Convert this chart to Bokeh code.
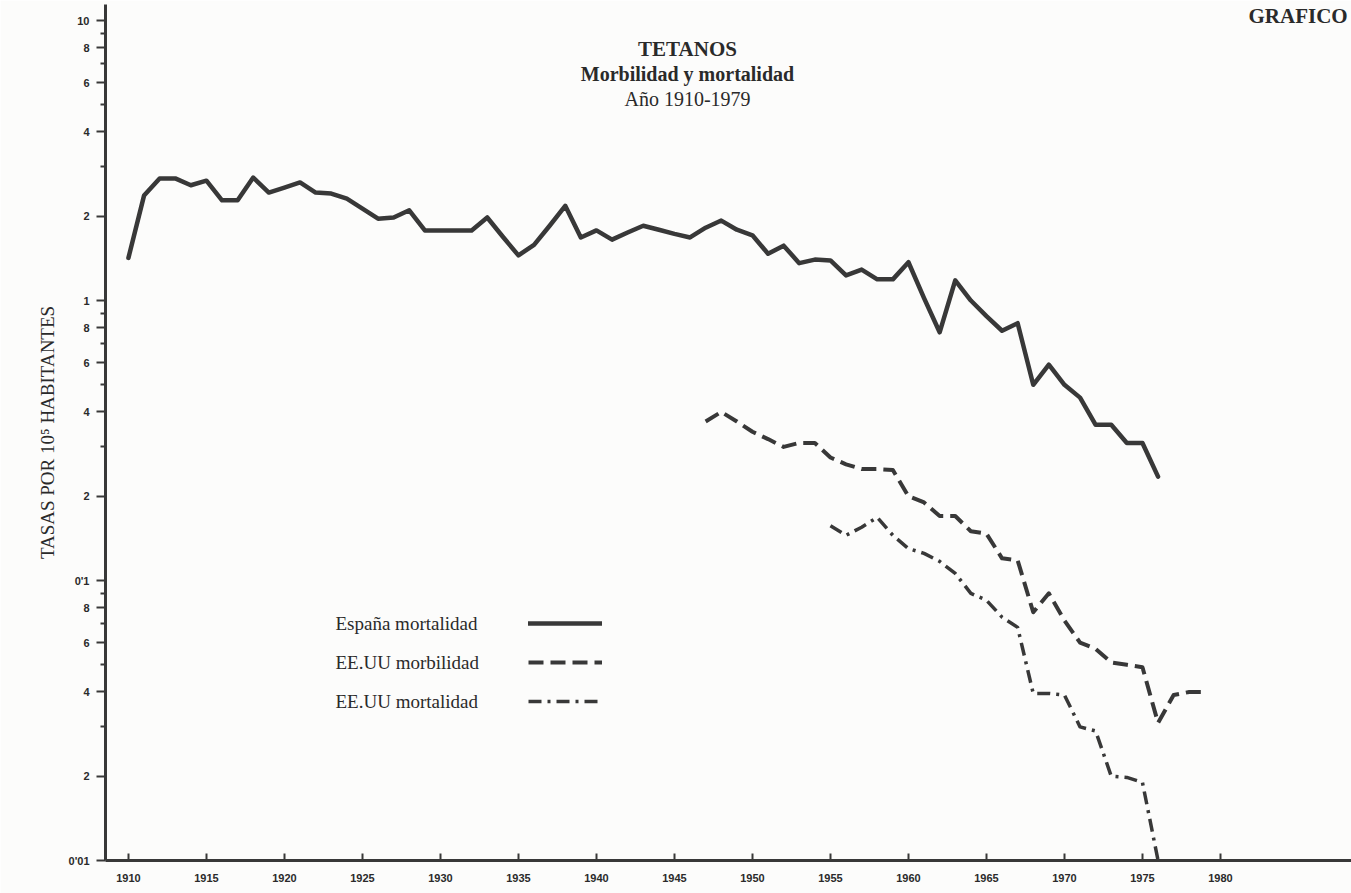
from bokeh.plotting import figure
from bokeh.models import Range1d, FixedTicker, Label, Legend, LegendItem
from bokeh.embed import file_html
from bokeh.resources import INLINE
from bokeh.core.properties import value

# ---------------- data ----------------
spain_years = list(range(1910, 1977))
spain_mort = [1.42, 2.37, 2.73, 2.73, 2.58, 2.68, 2.28, 2.28, 2.75, 2.43,   # 1910-1919
              2.53, 2.64, 2.43, 2.41, 2.31, 2.13, 1.96, 1.98, 2.10, 1.78,   # 1920-1929
              1.78, 1.78, 1.78, 1.98, 1.69, 1.45, 1.58, 1.85, 2.18, 1.68,   # 1930-1939
              1.78, 1.65, 1.75, 1.85, 1.79, 1.73, 1.68, 1.82, 1.93, 1.79,   # 1940-1949
              1.71, 1.47, 1.57, 1.36, 1.40, 1.39, 1.23, 1.29, 1.19, 1.19,   # 1950-1959
              1.37, 1.02, 0.77, 1.18, 1.00, 0.88, 0.78, 0.83, 0.50, 0.59,   # 1960-1969
              0.50, 0.45, 0.36, 0.36, 0.31, 0.31, 0.235]                     # 1970-1976

us_morb_years = list(range(1947, 1980))
us_morb = [0.37, 0.40, 0.37, 0.34, 0.32, 0.30, 0.31, 0.31, 0.275, 0.26,      # 1947-1956
           0.25, 0.25, 0.248, 0.20, 0.19, 0.17, 0.17, 0.15, 0.147, 0.12,     # 1957-1966
           0.118, 0.077, 0.09, 0.072, 0.06, 0.057, 0.051, 0.05, 0.049, 0.031,  # 1967-1976
           0.039, 0.04, 0.04]                                                # 1977-1979

us_mort_years = list(range(1955, 1977))
us_mort = [0.157, 0.145, 0.155, 0.168, 0.145, 0.13, 0.125, 0.117, 0.106, 0.09,     # 1955-1964
           0.085, 0.074, 0.068, 0.0395, 0.0395, 0.039, 0.030, 0.029, 0.020, 0.0198,  # 1965-1974
           0.019, 0.01]                                                            # 1975-1976

x_ticks = [1910, 1915, 1920, 1925, 1930, 1935, 1940, 1945, 1950, 1955, 1960, 1965, 1970, 1975, 1980]
x_labels = ["1910", "1915", "1920", "1925", "1930", "1935", "1940", "1945", "1950", "1955",
            "1960", "1965", "1970", "1975", "1980"]
y_major = [0.01, 0.02, 0.04, 0.06, 0.08, 0.1, 0.2, 0.4, 0.6, 0.8, 1, 2, 4, 6, 8, 10]
y_labels = ["0'01", "2", "4", "6", "8", "0'1", "2", "4", "6", "8", "1", "2", "4", "6", "8", "10"]
y_minor = [0.03, 0.05, 0.07, 0.09, 0.3, 0.5, 0.7, 0.9, 3, 5, 7, 9]

title_lines = ["TETANOS", "Morbilidad y mortalidad", "Año 1910-1979"]
legend_labels = ["España mortalidad", "EE.UU morbilidad", "EE.UU mortalidad"]
y_title = "TASAS POR 10⁵ HABITANTES"
corner_text = "GRAFICO"

# ---------------- figure ----------------
INK = "#383838"
TXT = "#2a2a2a"
BG = "#fcfcfb"
SERIF = "Liberation Serif"

p = figure(width=1351, height=893, y_axis_type="log",
           x_range=Range1d(1908.53, 1988.40), y_range=Range1d(0.01, 11.41),
           output_backend="svg", toolbar_location=None,
           min_border_left=105, min_border_right=0, min_border_top=4, min_border_bottom=33)
p.background_fill_color = BG
p.border_fill_color = BG
p.outline_line_color = None
p.grid.visible = False

r1 = p.line(spain_years, spain_mort, line_width=4.5, line_color=INK,
            line_join="round", line_cap="round")
r2 = p.line(us_morb_years, us_morb, line_width=4, line_color=INK,
            line_dash="15 7", line_join="round")
r3 = p.line(us_mort_years, us_mort, line_width=3.5, line_color=INK,
            line_dash="13 6 3 6", line_join="round")

# axes
xa = p.xaxis[0]
xa.ticker = FixedTicker(ticks=x_ticks, minor_ticks=[])
xa.major_label_overrides = dict(zip(x_ticks, x_labels))
xa.axis_line_width = 3
xa.axis_line_color = INK
xa.major_tick_line_color = INK
xa.major_tick_line_width = 2
xa.major_tick_in = 7
xa.major_tick_out = 0
xa.minor_tick_line_color = None
xa.major_label_standoff = 13
xa.major_label_text_font = "Liberation Sans"
xa.major_label_text_font_style = "bold"
xa.major_label_text_font_size = "11px"
xa.major_label_text_color = TXT

ya = p.yaxis[0]
ya.ticker = FixedTicker(ticks=y_major, minor_ticks=y_minor)
ya.major_label_overrides = dict(zip(y_major, y_labels))
ya.axis_line_width = 3
ya.axis_line_color = INK
ya.major_tick_line_color = INK
ya.major_tick_line_width = 2
ya.major_tick_in = 0
ya.major_tick_out = 9
ya.minor_tick_line_color = INK
ya.minor_tick_line_width = 2
ya.minor_tick_in = 0
ya.minor_tick_out = 5
ya.major_label_standoff = 7
ya.major_label_text_font = "Liberation Sans"
ya.major_label_text_font_style = "bold"
ya.major_label_text_font_size = "11px"
ya.major_label_text_color = TXT
ya.axis_label = y_title
ya.axis_label_text_font = SERIF
ya.axis_label_text_font_style = "normal"
ya.axis_label_text_font_size = "19px"
ya.axis_label_text_color = TXT
ya.axis_label_standoff = 8

# title block
title_sizes = ["21px", "20px", "20px"]
title_styles = ["bold", "bold", "normal"]
title_y = [812, 787, 762]
for t, s, st, yy in zip(title_lines, title_sizes, title_styles, title_y):
    p.add_layout(Label(x=582, y=yy, x_units="screen", y_units="screen", text=t,
                       text_align="center", text_baseline="middle",
                       text_font=SERIF, text_font_size=s, text_font_style=st,
                       text_color=TXT))

p.add_layout(Label(x=1143, y=845, x_units="screen", y_units="screen", text=corner_text,
                   text_align="left", text_baseline="middle",
                   text_font=SERIF, text_font_size="21px", text_font_style="bold",
                   text_color=TXT))

# legend: texts on the left, keys on the right
legend_text_y = [237, 198, 159]
for t, yy in zip(legend_labels, legend_text_y):
    p.add_layout(Label(x=230, y=yy, x_units="screen", y_units="screen", text=t,
                       text_align="left", text_baseline="middle",
                       text_font=SERIF, text_font_size="19px",
                       text_color=TXT))

legend = Legend(items=[LegendItem(label=value(" "), renderers=[r]) for r in (r1, r2, r3)],
                location=(423, 149), orientation="vertical",
                glyph_width=74, glyph_height=20, spacing=19,
                padding=0, margin=0, label_standoff=0, label_width=0,
                label_text_font_size="1px",
                border_line_alpha=0, background_fill_alpha=0)
p.add_layout(legend)

open("out.html", "w").write(file_html(p, INLINE))
